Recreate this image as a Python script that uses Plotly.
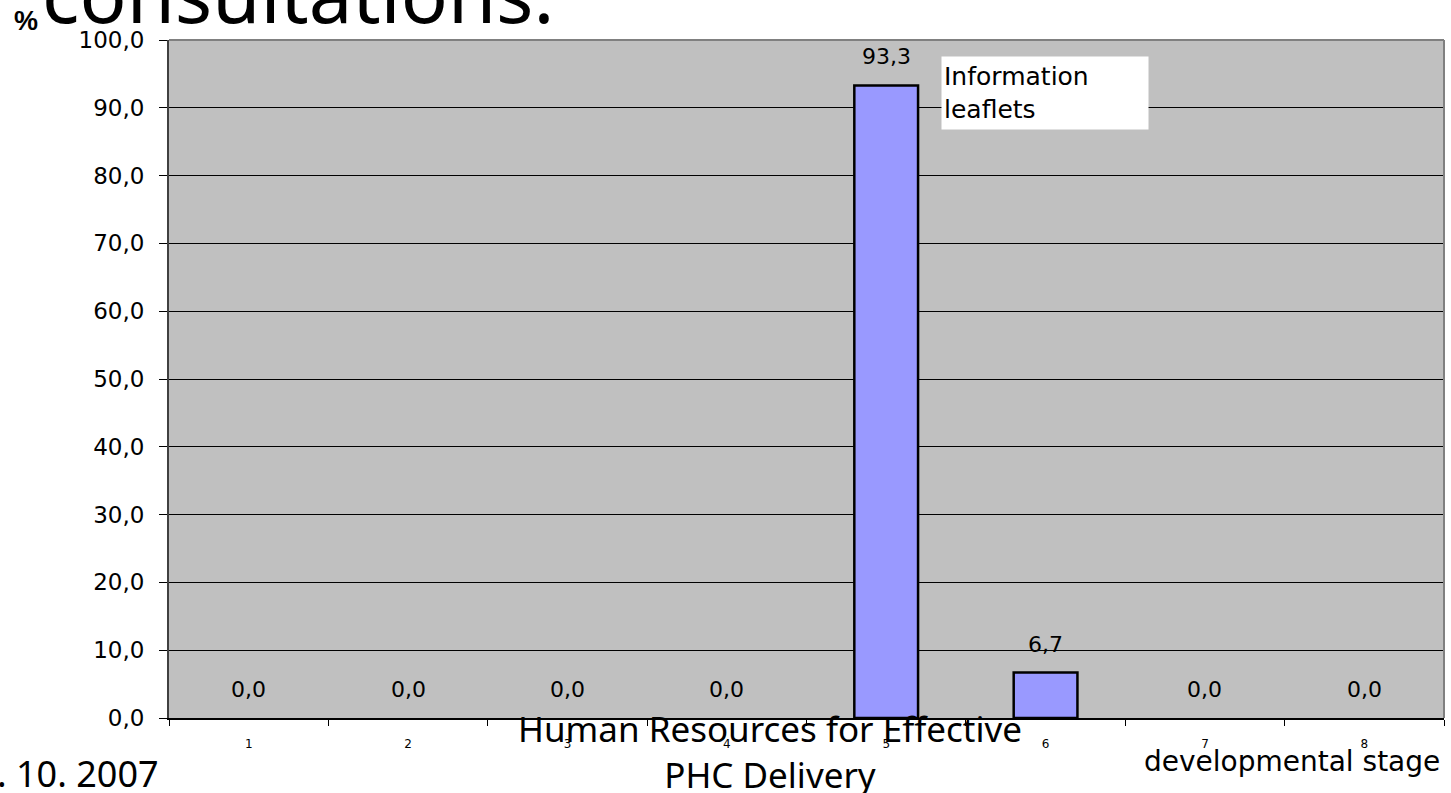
import plotly.graph_objects as go

# Developmental stage categories and share of consultations (%)
stages = [1, 2, 3, 4, 5, 6, 7, 8]
shares = [0.0, 0.0, 0.0, 0.0, 93.3, 6.7, 0.0, 0.0]
y_ticks = [0, 10, 20, 30, 40, 50, 60, 70, 80, 90, 100]

W, H = 1451, 793
L, R, T, B = 169, 7, 40, 75
PW, PH = W - L - R, H - T - B


def px_x(p):
    return (p - L) / PW


def px_y(p):
    return (H - B - p) / PH


def fmt(v):
    return f"{v:.1f}".replace(".", ",")


fig = go.Figure()
fig.add_trace(go.Bar(
    x=stages,
    y=shares,
    marker=dict(
        color="#9999FF",
        line=dict(color="black", width=[2.5 if v > 0 else 0 for v in shares]),
    ),
    width=0.4,
    hoverinfo="skip",
))

annotations = []
# value labels above each bar
for s, v in zip(stages, shares):
    annotations.append(dict(
        x=s, y=v, xref="x", yref="y", text=fmt(v), showarrow=False,
        yanchor="bottom", yshift=14,
        font=dict(family="DejaVu Sans", size=22, color="black"),
    ))

# callout box for the tallest bar
annotations.append(dict(
    x=px_x(941), y=px_y(56), xref="paper", yref="paper",
    xanchor="left", yanchor="top",
    text="Information<br>leaflets", align="left", showarrow=False,
    bgcolor="white", width=202, height=68, borderpad=2,
    font=dict(family="DejaVu Sans", size=25, color="black"),
))

# slide title, partly cut at the top edge
annotations.append(dict(
    x=px_x(40), y=px_y(48), xref="paper", yref="paper",
    xanchor="left", yanchor="bottom", text="consultations:", showarrow=False,
    font=dict(family="Noto Sans", size=78, color="black"),
))
annotations.append(dict(
    x=px_x(12), y=px_y(38), xref="paper", yref="paper",
    xanchor="left", yanchor="bottom", text="<b>%</b>", showarrow=False,
    font=dict(family="Liberation Sans", size=27, color="black"),
))

# axis caption
annotations.append(dict(
    x=px_x(1442), y=px_y(780), xref="paper", yref="paper",
    xanchor="right", yanchor="bottom", text="developmental stage", showarrow=False,
    font=dict(family="DejaVu Sans", size=28, color="black"),
))

# slide footer
annotations.append(dict(
    x=px_x(770), y=px_y(800), xref="paper", yref="paper",
    xanchor="center", yanchor="bottom",
    text="Human Resources for Effective<br>PHC Delivery", showarrow=False,
    font=dict(family="Noto Sans", size=35, color="black"),
))
annotations.append(dict(
    x=px_x(-5), y=px_y(800), xref="paper", yref="paper",
    xanchor="left", yanchor="bottom", text=". 10. 2007", showarrow=False,
    font=dict(family="Noto Sans", size=36, color="black"),
))

# gray frame on top and right of the plot area
shapes = [
    dict(type="line", xref="paper", yref="paper", x0=0, x1=1, y0=1, y1=1,
         line=dict(color="#808080", width=2)),
    dict(type="line", xref="paper", yref="paper", x0=1, x1=1, y0=0, y1=1,
         line=dict(color="#808080", width=2)),
]

fig.update_layout(
    width=W, height=H,
    margin=dict(l=L, r=R, t=T, b=B),
    paper_bgcolor="white",
    plot_bgcolor="#C0C0C0",
    separators=",.",
    showlegend=False,
    annotations=annotations,
    shapes=shapes,
    xaxis=dict(
        range=[0.5, 8.5],
        tickvals=stages,
        ticktext=[str(s) for s in stages],
        ticks="",
        ticklabelstandoff=14,
        tickfont=dict(family="DejaVu Sans", size=12, color="black"),
        showgrid=False, zeroline=False,
        showline=True, linecolor="black", linewidth=2,
        minor=dict(tickvals=[s + 0.5 for s in [0] + stages], ticks="outside",
                   ticklen=6, tickcolor="black", tickwidth=1),
        fixedrange=True,
    ),
    yaxis=dict(
        range=[0, 100],
        tickvals=y_ticks,
        tickformat=".1f",
        ticks="outside", ticklen=8, tickcolor="black",
        ticklabelstandoff=10,
        tickfont=dict(family="DejaVu Sans", size=23, color="black"),
        showgrid=True, gridcolor="black", gridwidth=1,
        zeroline=False,
        showline=True, linecolor="#404040", linewidth=2,
        fixedrange=True,
    ),
)

fig.write_html("out.html", config={"displayModeBar": False})
